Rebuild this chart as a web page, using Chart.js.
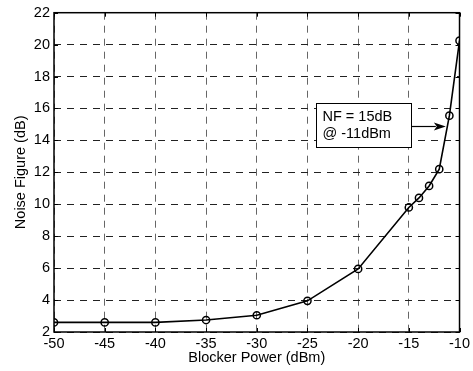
<!DOCTYPE html>
<html>
<head>
<meta charset="utf-8">
<script src="https://cdn.jsdelivr.net/npm/chart.js@4/dist/chart.umd.min.js"></script>
<style>
html,body{margin:0;padding:0;background:#fff;}
#wrap{width:473px;height:371px;position:relative;}
</style>
</head>
<body>
<div id="wrap"><canvas id="c" width="473" height="371"></canvas></div>
<script>
const blockerPower = [-50, -45, -40, -35, -30, -25, -20, -15, -14, -13, -12, -11, -10];
const noiseFigure = [2.6, 2.6, 2.6, 2.75, 3.05, 3.95, 5.95, 9.8, 10.4, 11.15, 12.2, 15.55, 20.25];
const xTicks = [-50, -45, -40, -35, -30, -25, -20, -15, -10];
const yTicks = [2, 4, 6, 8, 10, 12, 14, 16, 18, 20, 22];
const xTitle = 'Blocker Power (dBm)';
const yTitle = 'Noise Figure (dB)';
const noteLines = ['NF = 15dB', '@ -11dBm'];
const noteBox = {x0: -24.2, x1: -14.8, y0: 16.33, y1: 13.59};
const noteTip = {x: -11.35, y: 14.9};

const FONT = 'Liberation Sans, Arial, sans-serif';

const framePlugin = {
  id: 'frame',
  afterDraw(chart) {
    const {ctx, chartArea: a, scales: {x, y}} = chart;
    ctx.save();
    // inward ticks
    ctx.strokeStyle = '#000';
    ctx.lineWidth = 1;
    ctx.beginPath();
    xTicks.forEach(v => {
      const px = Math.round(x.getPixelForValue(v)) + 0.5;
      ctx.moveTo(px, a.bottom); ctx.lineTo(px, a.bottom - 4);
      ctx.moveTo(px, a.top); ctx.lineTo(px, a.top + 4);
    });
    yTicks.forEach(v => {
      const py = Math.round(y.getPixelForValue(v)) + 0.5;
      ctx.moveTo(a.left, py); ctx.lineTo(a.left + 4, py);
      ctx.moveTo(a.right, py); ctx.lineTo(a.right - 4, py);
    });
    ctx.stroke();
    // frame
    ctx.lineWidth = 1.5;
    ctx.strokeRect(a.left, a.top, a.right - a.left, a.bottom - a.top);
    // annotation box
    const bx0 = Math.round(x.getPixelForValue(noteBox.x0)) + 0.5;
    const bx1 = Math.round(x.getPixelForValue(noteBox.x1)) + 0.5;
    const by0 = Math.round(y.getPixelForValue(noteBox.y0)) + 0.5;
    const by1 = Math.round(y.getPixelForValue(noteBox.y1)) + 0.5;
    ctx.fillStyle = '#fff';
    ctx.fillRect(bx0, by0, bx1 - bx0, by1 - by0);
    ctx.lineWidth = 1;
    ctx.strokeRect(bx0, by0, bx1 - bx0, by1 - by0);
    ctx.fillStyle = '#000';
    ctx.font = '14.5px ' + FONT;
    ctx.textBaseline = 'middle';
    ctx.textAlign = 'left';
    const midY = (by0 + by1) / 2;
    ctx.fillText(noteLines[0], bx0 + 6, midY - 8.5);
    ctx.fillText(noteLines[1], bx0 + 6, midY + 8.5);
    // arrow
    const tx = x.getPixelForValue(noteTip.x);
    const ty = Math.round(y.getPixelForValue(noteTip.y)) + 0.5;
    ctx.beginPath();
    ctx.moveTo(bx1, ty);
    ctx.lineTo(tx - 10, ty);
    ctx.lineWidth = 1.2;
    ctx.stroke();
    ctx.beginPath();
    ctx.moveTo(tx, ty);
    ctx.lineTo(tx - 12, ty - 4);
    ctx.lineTo(tx - 9, ty);
    ctx.lineTo(tx - 12, ty + 4);
    ctx.closePath();
    ctx.fill();
    ctx.restore();
  }
};

new Chart(document.getElementById('c'), {
  type: 'line',
  data: {
    datasets: [{
      data: blockerPower.map((v, i) => ({x: v, y: noiseFigure[i]})),
      borderColor: '#000',
      borderWidth: 1.6,
      backgroundColor: 'rgba(0,0,0,0)',
      pointRadius: 3.6,
      pointBorderWidth: 1.5,
      pointBorderColor: '#000',
      pointBackgroundColor: 'rgba(0,0,0,0)',
      tension: 0,
      fill: false
    }]
  },
  options: {
    responsive: false,
    animation: false,
    events: [],
    layout: {padding: {top: 11, right: 11, left: 0, bottom: 0}},
    plugins: {legend: {display: false}, tooltip: {enabled: false}},
    scales: {
      x: {
        type: 'linear',
        min: -50, max: -10,
        afterBuildTicks: s => { s.ticks = xTicks.map(v => ({value: v})); },
        afterFit: s => { s.height = 39; },
        ticks: {color: '#000', font: {family: FONT, size: 14.5}, padding: 3, maxRotation: 0, autoSkip: false},
        grid: {color: '#666', lineWidth: 1, drawTicks: false, borderDash: [7, 6]},
        border: {display: false, dash: [7, 6]},
        title: {display: true, text: xTitle, color: '#000', font: {family: FONT, size: 14.5}, padding: {top: 0, bottom: 4}}
      },
      y: {
        type: 'linear',
        min: 2, max: 22,
        afterBuildTicks: s => { s.ticks = yTicks.map(v => ({value: v})); },
        afterFit: s => { s.width = 54; },
        ticks: {color: '#000', font: {family: FONT, size: 14.5}, padding: 4, autoSkip: false},
        grid: {color: '#222', lineWidth: 1, drawTicks: false, borderDash: [7, 6]},
        border: {display: false, dash: [7, 6]},
        title: {display: true, text: yTitle, color: '#000', font: {family: FONT, size: 14.5}, padding: {top: 12, bottom: 0}}
      }
    }
  },
  plugins: [framePlugin]
});
</script>
</body>
</html>
